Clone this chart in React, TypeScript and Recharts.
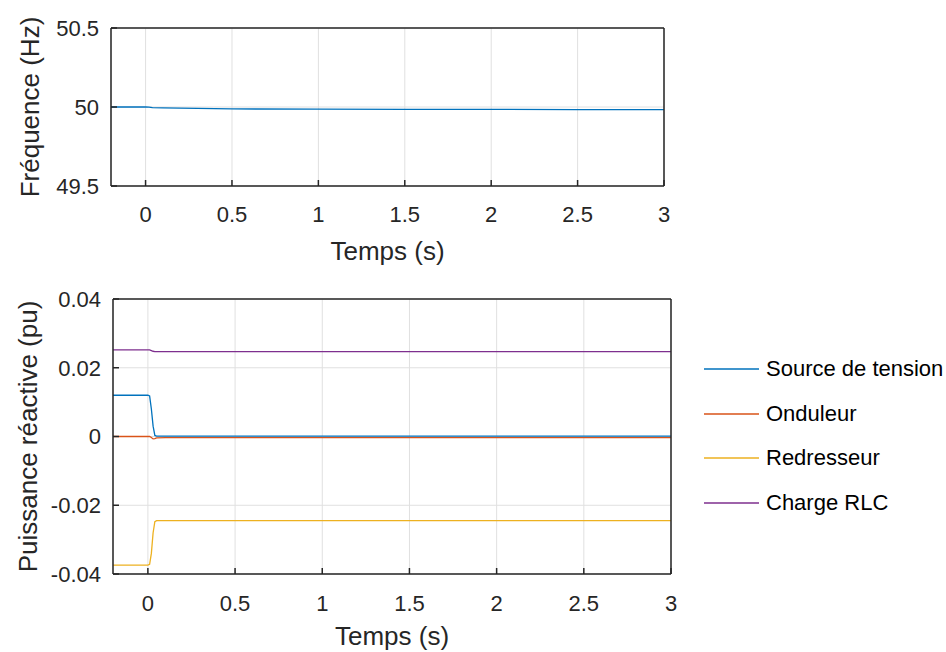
import React from 'react';
import { LineChart, Line, XAxis, YAxis, CartesianGrid, Legend } from 'recharts';

const FONT = '"Liberation Sans", Arial, Helvetica, sans-serif';
const TXT = '#262626';
const GRID = '#e0e0e0';

// Tick labels
const xTicks = [0, 0.5, 1, 1.5, 2, 2.5, 3];
const freqTicks = [49.5, 50, 50.5];
const powerTicks = [-0.04, -0.02, 0, 0.02, 0.04];

// Frequency (Hz)
const freqTime = [-0.2, 0, 0.02, 0.04, 0.1, 0.5, 1, 1.5, 2, 2.5, 3];
const frequency = [50.0, 50.0, 49.999, 49.996, 49.994, 49.988, 49.986, 49.985, 49.9845, 49.984, 49.9835];

// Reactive power (pu)
const powerTime = [-0.2, 0, 0.01, 0.02, 0.03, 0.04, 0.05, 0.1, 0.5, 1, 1.5, 2, 2.5, 3];
const sourceTension = [0.012, 0.012, 0.0118, 0.008, 0.003, 0.0003, 0.0001, 0.0001, 0.0001, 0.0001, 0.0001, 0.0001, 0.0001, 0.0001];
const onduleur = [0, 0, 0, -0.0003, -0.0007, -0.0006, -0.0004, -0.0003, -0.0003, -0.0003, -0.0003, -0.0003, -0.0003, -0.0003];
const redresseur = [-0.0374, -0.0374, -0.0372, -0.034, -0.028, -0.0248, -0.0245, -0.0245, -0.0245, -0.0245, -0.0245, -0.0245, -0.0245, -0.0245];
const chargeRLC = [0.0252, 0.0252, 0.0252, 0.025, 0.0248, 0.0247, 0.0247, 0.0247, 0.0247, 0.0247, 0.0247, 0.0247, 0.0247, 0.0247];

const seriesNames = ['Source de tension', 'Onduleur', 'Redresseur', 'Charge RLC'];
const seriesColors = ['#0072BD', '#D95319', '#EDB120', '#7E2F8E'];
const seriesValues = [sourceTension, onduleur, redresseur, chargeRLC];

const freqData = freqTime.map((t, i) => ({ t, f: frequency[i] }));
const powerData = powerTime.map((t, i) => {
  const row: Record<string, number> = { t };
  seriesValues.forEach((vals, k) => {
    row['s' + k] = vals[i];
  });
  return row;
});

const tickStyle = { fill: TXT, fontSize: 22, fontFamily: FONT };
const labelStyle = { fill: TXT, fontSize: 26, fontFamily: FONT };
const lineStyle = { stroke: TXT, strokeWidth: 1.5 };

const renderLegend = () => (
  <div style={{ fontFamily: FONT, fontSize: 22, color: '#000' }}>
    {seriesNames.map((name, i) => (
      <div key={name} style={{ display: 'flex', alignItems: 'center', height: 44.6, whiteSpace: 'nowrap' }}>
        <svg width={55} height={4} style={{ marginRight: 7 }}>
          <line x1={0} y1={2} x2={55} y2={2} stroke={seriesColors[i]} strokeWidth={1.3} />
        </svg>
        <span>{name}</span>
      </div>
    ))}
  </div>
);

export default function App() {
  return (
    <div style={{ position: 'absolute', left: 0, top: 0, width: 946, height: 652, background: '#fff' }}>
      <div style={{ position: 'absolute', left: 0, top: 0 }}>
        <LineChart width={946} height={270} data={freqData} margin={{ top: 27, right: 281, bottom: 4, left: 0 }}>
          <CartesianGrid stroke={GRID} strokeWidth={1} />
          <XAxis
            dataKey="t"
            type="number"
            domain={[-0.2, 3]}
            ticks={xTicks}
            interval={0}
            allowDataOverflow
            height={80}
            tickSize={-6}
            tickMargin={26.5}
            axisLine={lineStyle}
            tickLine={lineStyle}
            tick={tickStyle}
            label={{ value: 'Temps (s)', position: 'insideBottom', offset: 6, ...labelStyle }}
          />
          <XAxis
            xAxisId="top"
            orientation="top"
            type="number"
            domain={[-0.2, 3]}
            ticks={xTicks}
            interval={0}
            allowDataOverflow
            height={1}
            tickSize={-6}
            axisLine={lineStyle}
            tickLine={lineStyle}
            tick={false}
          />
          <YAxis
            type="number"
            domain={[49.5, 50.5]}
            ticks={freqTicks}
            interval={0}
            allowDataOverflow
            width={111}
            tickSize={-6}
            tickMargin={18}
            axisLine={lineStyle}
            tickLine={lineStyle}
            tick={tickStyle}
            label={{ value: 'Fréquence (Hz)', angle: -90, position: 'center', dx: -25.5, ...labelStyle }}
          />
          <YAxis
            yAxisId="right"
            orientation="right"
            type="number"
            domain={[49.5, 50.5]}
            ticks={freqTicks}
            interval={0}
            allowDataOverflow
            width={1}
            tickSize={-6}
            axisLine={lineStyle}
            tickLine={lineStyle}
            tick={false}
          />
          <Line dataKey="f" stroke="#0072BD" strokeWidth={1.3} dot={false} isAnimationActive={false} />
        </LineChart>
      </div>
      <div style={{ position: 'absolute', left: 0, top: 270 }}>
        <LineChart width={946} height={382} data={powerData} margin={{ top: 28, right: 274, bottom: 4, left: 0 }}>
          <CartesianGrid stroke={GRID} strokeWidth={1} />
          <XAxis
            dataKey="t"
            type="number"
            domain={[-0.2, 3]}
            ticks={xTicks}
            interval={0}
            allowDataOverflow
            height={74}
            tickSize={-6}
            tickMargin={27}
            axisLine={lineStyle}
            tickLine={lineStyle}
            tick={tickStyle}
            label={{ value: 'Temps (s)', position: 'insideBottom', offset: 3, ...labelStyle }}
          />
          <XAxis
            xAxisId="top"
            orientation="top"
            type="number"
            domain={[-0.2, 3]}
            ticks={xTicks}
            interval={0}
            allowDataOverflow
            height={1}
            tickSize={-6}
            axisLine={lineStyle}
            tickLine={lineStyle}
            tick={false}
          />
          <YAxis
            type="number"
            domain={[-0.04, 0.04]}
            ticks={powerTicks}
            interval={0}
            allowDataOverflow
            width={113}
            tickSize={-6}
            tickMargin={18}
            axisLine={lineStyle}
            tickLine={lineStyle}
            tick={tickStyle}
            label={{ value: 'Puissance réactive (pu)', angle: -90, position: 'center', dx: -28.5, ...labelStyle }}
          />
          <YAxis
            yAxisId="right"
            orientation="right"
            type="number"
            domain={[-0.04, 0.04]}
            ticks={powerTicks}
            interval={0}
            allowDataOverflow
            width={1}
            tickSize={-6}
            axisLine={lineStyle}
            tickLine={lineStyle}
            tick={false}
          />
          {seriesNames.map((name, k) => (
            <Line
              key={name}
              name={name}
              dataKey={'s' + k}
              stroke={seriesColors[k]}
              strokeWidth={1.3}
              dot={false}
              isAnimationActive={false}
            />
          ))}
          <Legend
            layout="vertical"
            align="center"
            verticalAlign="middle"
            content={renderLegend}
            wrapperStyle={{ left: 704, top: 76.7, width: 'auto', height: 'auto' }}
          />
        </LineChart>
      </div>
    </div>
  );
}
